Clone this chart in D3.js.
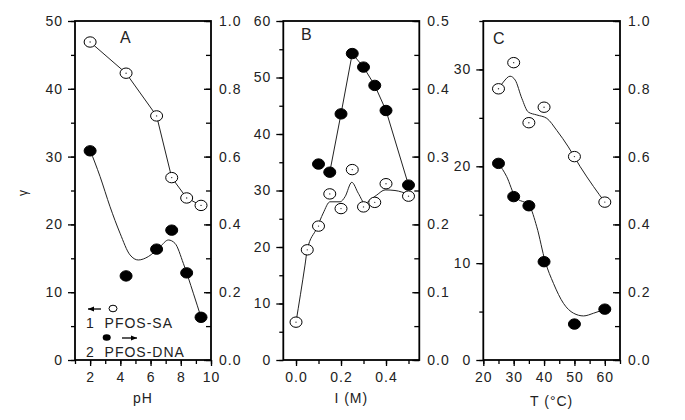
<!DOCTYPE html>
<html><head><meta charset="utf-8">
<script src="https://cdn.jsdelivr.net/npm/d3@7"></script>
<style>
body{margin:0;background:#fff}
svg text{font-family:"Liberation Sans",Arial,sans-serif;fill:#222}
</style></head>
<body><svg id="c" width="685" height="420"></svg>
<script>
// ---- Panel A: pH ----
const phA = [2.0, 4.38, 6.4, 7.4, 8.39, 9.34];
const saA = [46.9, 42.3, 36.0, 26.9, 23.9, 22.8];
const dnaA = [0.617, 0.248, 0.327, 0.383, 0.257, 0.126];
const fitPhA = [2.0, 2.66, 3.32, 3.98, 4.64, 5.19, 5.85, 6.63, 7.18, 7.62, 8.17, 8.83, 9.34];
const fitDnaA = [0.619, 0.541, 0.452, 0.374, 0.310, 0.295, 0.305, 0.334, 0.354, 0.344, 0.285, 0.197, 0.126];
// ---- Panel B: ionic strength ----
const ionB = [0, 0.05, 0.1, 0.15, 0.2, 0.25, 0.3, 0.35, 0.4, 0.5];
const saB = [6.7, 19.5, 23.7, 29.4, 26.8, 33.7, 27.1, 27.9, 31.2, 29.0];
const ionDnaB = [0.1, 0.15, 0.2, 0.25, 0.3, 0.35, 0.4, 0.5];
const dnaB = [0.289, 0.277, 0.363, 0.452, 0.432, 0.405, 0.368, 0.258];
const fitIonB = [0, 0.04, 0.05, 0.092, 0.121, 0.151, 0.196, 0.218, 0.248, 0.277, 0.307, 0.329, 0.359, 0.396, 0.44, 0.5];
const fitSaB = [6.7, 16.8, 19.5, 23.3, 26.0, 28.0, 28.0, 28.9, 31.45, 29.5, 27.7, 28.3, 29.2, 30.1, 30.0, 29.3];
// ---- Panel C: temperature ----
const tC = [25, 30, 35, 40, 50, 60];
const saC = [28.0, 30.7, 24.5, 26.1, 21.0, 16.3];
const dnaC = [0.580, 0.482, 0.455, 0.290, 0.106, 0.150];
const fitTSaC = [25, 26.6, 28.8, 30.5, 32.7, 34.8, 37.6, 40.9, 44.2, 48.0, 51.9, 56.3, 60];
const fitSaC = [28.0, 28.7, 29.3, 28.9, 27.0, 25.6, 25.3, 24.95, 23.7, 22.0, 19.96, 17.9, 16.3];
const fitTDnaC = [25, 27.7, 30.5, 35.2, 37.6, 40.4, 43.1, 46.4, 49.7, 53.0, 56.3, 60];
const fitDnaC = [0.580, 0.541, 0.482, 0.454, 0.393, 0.290, 0.226, 0.167, 0.138, 0.130, 0.138, 0.150];
// ---- tick labels / titles ----
const xTitles = ["pH", "I (M)", "T (°C)"];
const panelLetters = ["A", "B", "C"];
const legendLabels = ["1  PFOS-SA", "2  PFOS-DNA"];

const svg = d3.select("#c");
const yTop = 21, yBot = 360;
const FS = 14;

const panels = [
  {x0:75, x1:211, xd:[1,10], xMaj:[2,4,6,8,10], xMin:d3.range(1,11,1), xfmt:d3.format("d"),
   yl:[0,50], ylMaj:d3.range(0,51,10), ylMin:d3.range(0,51,5), ylfmt:d3.format("d"),
   yr:[0,1], yrMaj:d3.range(0,1.01,0.2), yrMin:d3.range(0,1.01,0.1), yrfmt:d3.format(".1f"),
   titleY:403, letter:[120,43]},
  {x0:283.3, x1:419.3, xd:[-0.0565,0.548], xMaj:[0,0.2,0.4], xMin:[0,0.1,0.2,0.3,0.4,0.5], xfmt:d3.format(".1f"),
   yl:[0,60], ylMaj:d3.range(0,61,10), ylMin:d3.range(0,61,5), ylfmt:d3.format("d"),
   yr:[0,0.5], yrMaj:d3.range(0,0.51,0.1), yrMin:d3.range(0,0.51,0.05), yrfmt:d3.format(".1f"),
   titleY:403, letter:[301,40]},
  {x0:483.3, x1:620, xd:[20,65], xMaj:[20,30,40,50,60], xMin:d3.range(20,66,5), xfmt:d3.format("d"),
   yl:[0,35], ylMaj:[0,10,20,30], ylMin:d3.range(0,36,5), ylfmt:d3.format("d"),
   yr:[0,1], yrMaj:d3.range(0,1.01,0.2), yrMin:d3.range(0,1.01,0.1), yrfmt:d3.format(".1f"),
   titleY:406, letter:[493,44]}
];

panels.forEach((p,i)=>{
  p.x = d3.scaleLinear().domain(p.xd).range([p.x0,p.x1]);
  p.yL = d3.scaleLinear().domain(p.yl).range([yBot,yTop]);
  p.yR = d3.scaleLinear().domain(p.yr).range([yBot,yTop]);
  const g = svg.append("g");
  const style = sel => {
    sel.select(".domain").remove();
    sel.selectAll("line").attr("stroke","#000").attr("stroke-width",1.3);
    sel.selectAll("text").style("font-size",FS+"px").style("letter-spacing","1px").attr("fill","#222");
  };
  g.append("g").attr("transform",`translate(${p.x0},0)`)
    .call(d3.axisLeft(p.yL).tickValues(p.ylMin).tickSize(4).tickFormat("")).call(style);
  g.append("g").attr("transform",`translate(${p.x1},0)`)
    .call(d3.axisRight(p.yR).tickValues(p.yrMin).tickSize(-5).tickFormat("")).call(style);
  g.append("g").attr("transform",`translate(0,${yBot})`)
    .call(d3.axisBottom(p.x).tickValues(p.xMin).tickSize(4).tickFormat("")).call(style);
  g.append("g").attr("transform",`translate(${p.x0},0)`)
    .call(d3.axisLeft(p.yL).tickValues(p.ylMaj).tickSize(7).tickPadding(5).tickFormat(p.ylfmt)).call(style);
  g.append("g").attr("transform",`translate(${p.x1},0)`)
    .call(d3.axisRight(p.yR).tickValues(p.yrMaj).tickSize(-7).tickPadding(8).tickFormat(p.yrfmt)).call(style);
  g.append("g").attr("transform",`translate(0,${yBot})`)
    .call(d3.axisBottom(p.x).tickValues(p.xMaj).tickSize(6).tickPadding(6).tickFormat(p.xfmt)).call(style);
  g.append("rect").attr("x",p.x0).attr("y",yTop).attr("width",p.x1-p.x0).attr("height",yBot-yTop)
    .attr("fill","none").attr("stroke","#000").attr("stroke-width",1.8);
  g.append("text").attr("x",(p.x0+p.x1)/2).attr("y",p.titleY).attr("text-anchor","middle")
    .style("font-size",FS+"px").style("letter-spacing","1px").text(xTitles[i]);
  g.append("text").attr("x",p.letter[0]).attr("y",p.letter[1])
    .style("font-size","16px").text(panelLetters[i]);
});

svg.append("text").attr("transform","translate(27,193) rotate(-90)").attr("text-anchor","middle")
  .style("font-size","12px").text("γ");

const lineG = svg.append("g");
const markG = svg.append("g");
function drawLine(p, xs, ys, yScale, curve){
  const pts = xs.map((v,k)=>[v,ys[k]]);
  lineG.append("path").datum(pts)
    .attr("d", d3.line().x(d=>p.x(d[0])).y(d=>yScale(d[1])).curve(curve))
    .attr("fill","none").attr("stroke","#222").attr("stroke-width",1);
}
function drawMarks(p, xs, ys, yScale, filled){
  const pts = xs.map((v,k)=>[v,ys[k]]);
  const g = markG.append("g");
  g.selectAll("ellipse").data(pts).join("ellipse")
    .attr("cx",d=>p.x(d[0])).attr("cy",d=>yScale(d[1])).attr("rx",6).attr("ry",5.2)
    .attr("fill",filled?"#000":"#fff").attr("stroke","#000").attr("stroke-width",1);
  if(!filled){
    g.selectAll("circle").data(pts).join("circle")
      .attr("cx",d=>p.x(d[0])).attr("cy",d=>yScale(d[1])).attr("r",0.7).attr("fill","#333");
  }
}
const [A,B,C] = panels;
drawLine(A, phA, saA, A.yL, d3.curveLinear);
drawLine(A, fitPhA, fitDnaA, A.yR, d3.curveMonotoneX);
drawMarks(A, phA, saA, A.yL, false);
drawMarks(A, phA, dnaA, A.yR, true);
drawLine(B, fitIonB, fitSaB, B.yL, d3.curveMonotoneX);
drawLine(B, ionDnaB.slice(1), dnaB.slice(1), B.yR, d3.curveLinear);
drawMarks(B, ionB, saB, B.yL, false);
drawMarks(B, ionDnaB, dnaB, B.yR, true);
drawLine(C, fitTSaC, fitSaC, C.yL, d3.curveMonotoneX);
drawLine(C, fitTDnaC, fitDnaC, C.yR, d3.curveMonotoneX);
drawMarks(C, tC, saC, C.yL, false);
drawMarks(C, tC, dnaC, C.yR, true);

const lg = svg.append("g");
const arrow = (x1,x2,y) => {
  lg.append("line").attr("x1",x1).attr("x2",x2).attr("y1",y).attr("y2",y).attr("stroke","#000").attr("stroke-width",1.3);
  const d = x2>x1?1:-1;
  lg.append("path").attr("d",`M${x2},${y} L${x2-d*6},${y-2.5} L${x2-d*6},${y+2.5} Z`).attr("fill","#000");
};
arrow(101,88,309);
lg.append("ellipse").attr("cx",113).attr("cy",308.5).attr("rx",4).attr("ry",3.3).attr("fill","#fff").attr("stroke","#000");
lg.append("text").attr("x",86).attr("y",328).style("font-size",FS+"px").style("letter-spacing","1px")
  .style("white-space","pre").text(legendLabels[0]);
lg.append("ellipse").attr("cx",106.7).attr("cy",337.5).attr("rx",4).attr("ry",3.3).attr("fill","#000");
arrow(122,137,338);
lg.append("text").attr("x",86).attr("y",357).style("font-size",FS+"px").style("letter-spacing","1px")
  .style("white-space","pre").text(legendLabels[1]);
</script></body></html>
